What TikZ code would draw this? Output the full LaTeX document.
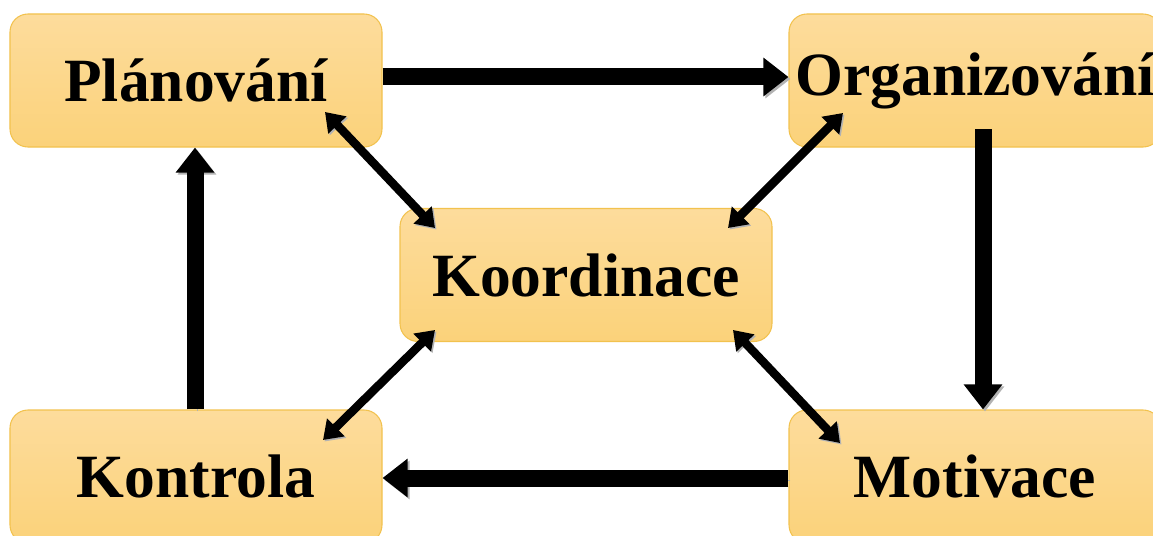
\documentclass[tikz,border=0pt]{standalone}
\usepackage{fontspec}
\setmainfont{Liberation Serif}
\usetikzlibrary{arrows.meta}
\definecolor{boxtop}{HTML}{FDDC9C}
\definecolor{boxbot}{HTML}{FBD27A}
\definecolor{boxline}{HTML}{F2C24E}
\begin{document}
\begin{tikzpicture}[font=\fontsize{35}{40}\selectfont\bfseries,
    box/.style={draw=boxline, line width=0.6pt, rounded corners=0.36cm, top color=boxtop, bottom color=boxbot,
        minimum width=7.44cm, minimum height=2.66cm, inner sep=0pt},
    big/.style={line width=0.34cm, -{Triangle[length=0.5cm,width=0.74cm]},
        preaction={draw=black!30, transform canvas={shift={(0.04,-0.04)}}}},
    dbl/.style={line width=0.17cm, {Triangle[length=0.36cm,width=0.48cm]}-{Triangle[length=0.36cm,width=0.48cm]},
        preaction={draw=black!30, transform canvas={shift={(0.03,-0.03)}}}}]
    \useasboundingbox (0,0) rectangle (23.06,10.7);
    \clip (0,0) rectangle (23.06,10.7);
    \node[box] (plan) at (3.92,9.09) {Plánování};
    \node[box] (org) at (19.5,9.09) {Organizování};
    \node[box] (koord) at (11.72,5.2) {Koordinace};
    \node[box] (kontr) at (3.92,1.17) {Kontrola};
    \node[box] (motiv) at (19.5,1.17) {Motivace};
    \draw[big] ([yshift=0.07cm]plan.east) -- ([yshift=0.07cm]org.west);
    \draw[big] ([shift={(0.16,-0.98)}]org.center) -- ([xshift=0.16cm]motiv.north);
    \draw[big] ([yshift=-0.03cm]motiv.west) -- ([yshift=-0.03cm]kontr.east);
    \draw[big] ([xshift=-0.02cm]kontr.north) -- ([xshift=-0.02cm]plan.south);
    \draw[dbl] ([shift={(2.58,-0.63)}]plan.center) -- ([shift={(-3.02,0.94)}]koord.center);
    \draw[dbl] ([shift={(-2.64,-0.65)}]org.center) -- ([shift={(2.84,0.94)}]koord.center);
    \draw[dbl] ([shift={(-3.02,-1.1)}]koord.center) -- ([shift={(2.54,0.73)}]kontr.center);
    \draw[dbl] ([shift={(2.94,-1.1)}]koord.center) -- ([shift={(-2.7,0.67)}]motiv.center);
\end{tikzpicture}
\end{document}
